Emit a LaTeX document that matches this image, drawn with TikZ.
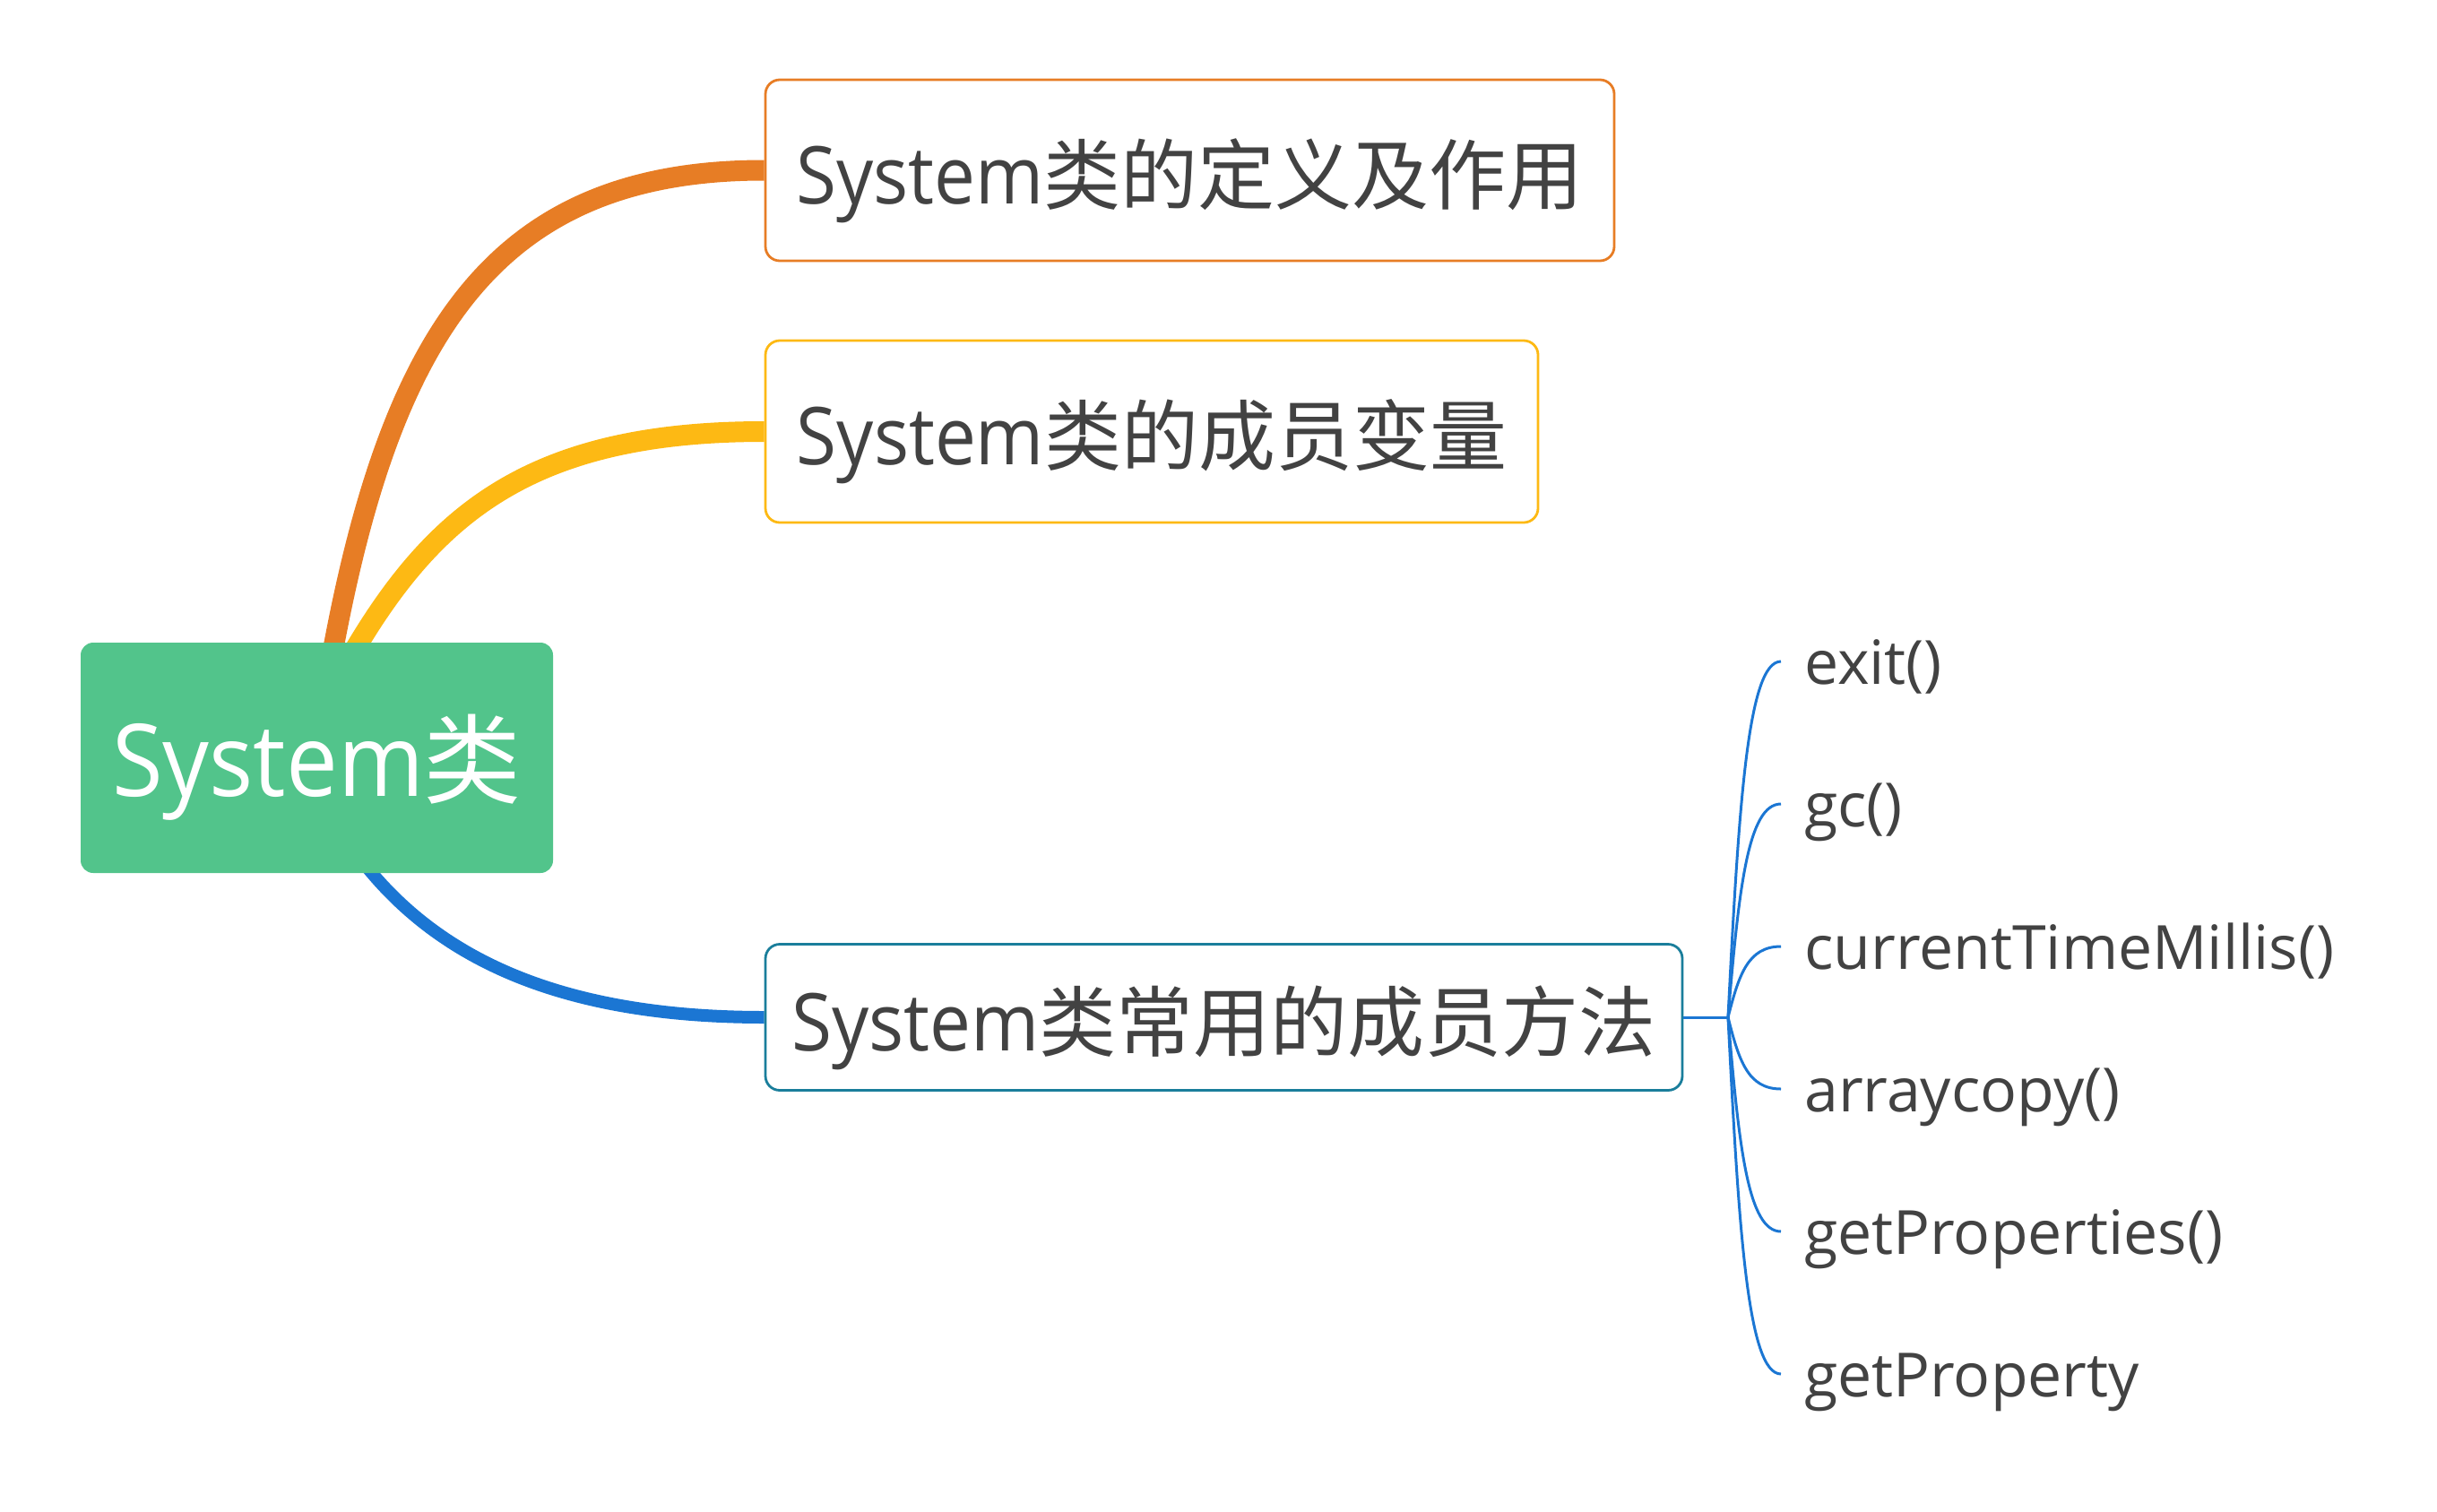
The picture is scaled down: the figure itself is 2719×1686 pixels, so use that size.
\documentclass[tikz,border=0pt]{standalone}
\usepackage{fontspec}
\setmainfont{Open Sans}
\newfontfamily\latfont[FakeStretch=0.92]{Open Sans}
\newfontfamily\cjkfont{Noto Sans CJK SC}
\usetikzlibrary{backgrounds}
\definecolor{rootgreen}{HTML}{52C48B}
\definecolor{orangeC}{HTML}{E77D25}
\definecolor{yellowC}{HTML}{FDB914}
\definecolor{blueC}{HTML}{1B76D3}
\definecolor{tealC}{HTML}{1A7E9B}
\definecolor{txtC}{HTML}{424242}
\newcommand\boxtxt[2]{{\latfont\fontsize{89}{100}\selectfont #1}{\cjkfont\fontsize{86}{100}\selectfont #2}}
\newcommand\roottxt[2]{{\latfont\fontsize{112}{124}\selectfont #1}{\cjkfont\fontsize{109}{124}\selectfont #2}}
\begin{document}
\begin{tikzpicture}[x=1pt,y=-1pt,
  topicbox/.style={draw, line width=2.8pt, fill=white, rounded corners=16pt, inner sep=0pt,
    text height=78pt, text depth=4pt, text=txtC},
  rootbox/.style={fill=rootgreen, rounded corners=14pt, inner sep=0pt,
    minimum width=527pt, minimum height=257pt, text=white, text height=94pt, text depth=8pt},
  leaf/.style={anchor=west, inner xsep=26pt, inner ysep=0pt, text height=60pt, text depth=10pt,
    text=txtC, font=\fontsize{68}{80}\selectfont},
  branch/.style={line cap=butt},
  leafline/.style={draw=blueC, line width=3pt},
]
\useasboundingbox (0,0) rectangle (2719,1686);

% root and topics
\node[rootbox] (root) at (353.5,845.5) {\roottxt{System}{类}};
\node[topicbox, draw=orangeC, minimum width=947pt, minimum height=202pt] (t1) at (1327.5,190) {\boxtxt{System}{类的定义及作用}};
\node[topicbox, draw=yellowC, minimum width=862pt, minimum height=203pt] (t2) at (1285,481.5) {\boxtxt{System}{类的成员变量}};
\node[topicbox, draw=tealC, minimum width=1023pt, minimum height=163pt] (t3) at (1365.5,1135) {\boxtxt{System}{类常用的成员方法}};

% main branches
\begin{scope}[on background layer]
  \draw[branch, draw=orangeC, line width=23pt] ([xshift=18.5pt,yshift=-6pt]root.north) .. controls (440,360) and (560,190) .. (t1.west);
  \draw[branch, draw=yellowC, line width=23pt] ([xshift=43.5pt,yshift=-6pt]root.north) .. controls (490,567) and (600,481.5) .. (t2.west);
  \draw[branch, draw=blueC, line width=14pt] ([xshift=56.5pt,yshift=6pt]root.south) .. controls (490,1066) and (620,1135) .. (t3.west);
\end{scope}

% leaves
\coordinate (J) at (1928,1135);
\node[leaf] (l1) at (1987,738) {exit()};
\node[leaf] (l2) at (1987,897) {gc()};
\node[leaf] (l3) at (1987,1056) {currentTimeMillis()};
\node[leaf] (l4) at (1987,1215) {arraycopy()};
\node[leaf] (l5) at (1987,1374) {getProperties()};
\node[leaf] (l6) at (1987,1533) {getProperty};

\draw[leafline] (t3.east) -- (J);
\draw[leafline] (J) .. controls (1940,897) and (1950,738) .. (l1.west);
\draw[leafline] (J) .. controls (1940,992) and (1950,897) .. (l2.west);
\draw[leafline] (J) .. controls (1940,1088) and (1950,1056) .. (l3.west);
\draw[leafline] (J) .. controls (1940,1183) and (1950,1215) .. (l4.west);
\draw[leafline] (J) .. controls (1940,1278) and (1950,1374) .. (l5.west);
\draw[leafline] (J) .. controls (1940,1374) and (1950,1533) .. (l6.west);
\end{tikzpicture}
\end{document}
